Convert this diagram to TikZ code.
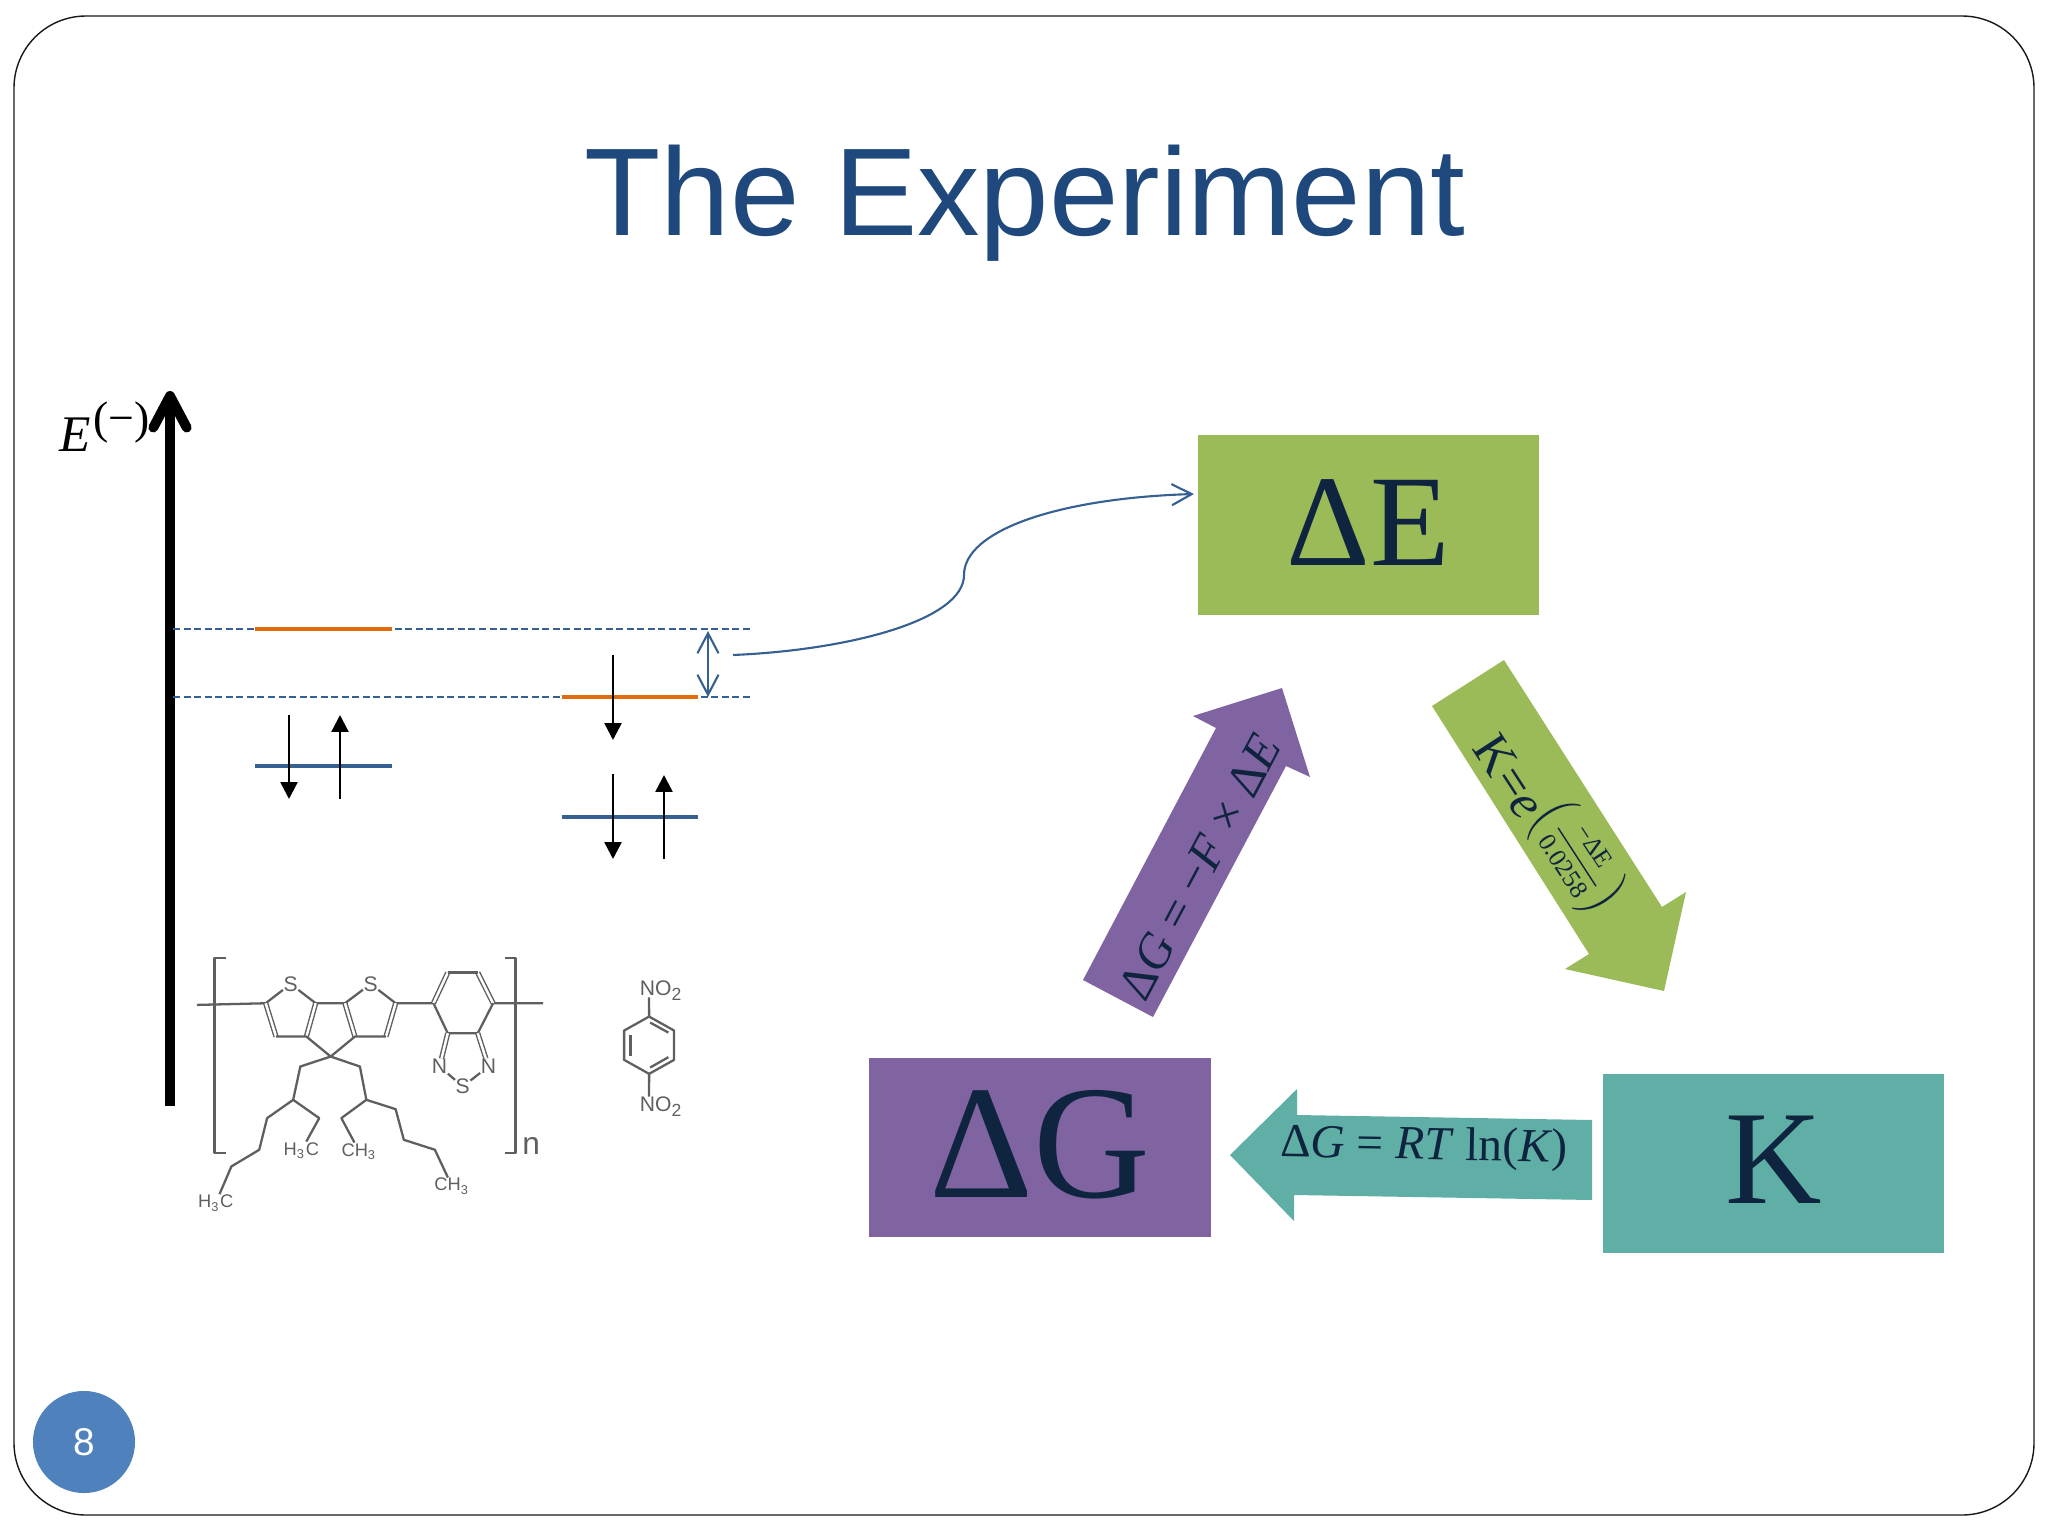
\documentclass[tikz,border=0pt]{standalone}
\usepackage{fontspec}
\setmainfont{Liberation Sans}
\newfontfamily\boxfont{Liberation Serif}
\usetikzlibrary{arrows.meta}
\definecolor{titleblue}{HTML}{1F497D}
\definecolor{pagecircle}{HTML}{4F81BD}
\definecolor{levelblue}{HTML}{366092}
\definecolor{levelorange}{HTML}{E36C0A}
\definecolor{boxgreen}{HTML}{9BBB59}
\definecolor{boxpurple}{HTML}{8064A2}
\definecolor{boxteal}{HTML}{60AFA6}
\definecolor{boxtext}{HTML}{0F243E}
\definecolor{bondgray}{HTML}{5F5F5F}

\begin{document}
\begin{tikzpicture}[x=0.01cm,y=-0.01cm,
    level/.style={line width=1.2pt},
    guide/.style={levelblue,line width=0.55pt,dash pattern=on 2pt off 1pt},
    spin/.style={line width=0.7pt,-{Triangle[length=4.8pt,width=4.8pt]}},
    gap/.style={levelblue,line width=0.6pt,{Straight Barb[length=5.7pt,width=6pt]}-{Straight Barb[length=5.7pt,width=6pt]}},
    bigbox/.style={inner sep=0pt,minimum width=3.41cm,minimum height=1.79cm,text=boxtext},
    onarrow/.style={text=boxtext,inner sep=0pt},
    bond/.style={bondgray,line width=0.65pt,line join=round},
    dbl/.style={bond,double,double distance=0.7pt,line width=0.4pt},
    atom/.style={text=bondgray,inner sep=0pt,font=\fontsize{6}{7}\selectfont},
    chainend/.style={atom,font=\fontsize{5.2}{6}\selectfont}
]
\useasboundingbox (0,0) rectangle (2048,1536);

% Slide frame and number
\draw[black!90,line width=0.4pt,rounded corners=0.72cm] (14,16) rectangle (2034,1515);
\node[circle,fill=pagecircle,minimum size=1.02cm,inner sep=0pt,text=white,font=\fontsize{11}{13}\selectfont] (page) at (84,1442) {8};

% Title
\node[text=titleblue,font=\fontsize{35.5}{40}\selectfont,inner sep=0pt] (title) at (1025,203.5) {The Experiment};

% Energy axis
\coordinate (axisB) at (170,1106);
\coordinate (axisT) at (170,391);
\draw[line width=2.8pt,-{Straight Barb[length=9pt,width=9.5pt,round]}] (axisB) -- (axisT);
\node[anchor=base west,inner sep=0pt,font=\boxfont\fontsize{14.6}{16}\selectfont] (elabel) at (59,451) {\textit{E}\hspace{0.6pt}\raisebox{5pt}{\fontsize{13}{15}\selectfont(−)}};

% Levels
\coordinate (G1) at (173,629);
\coordinate (G2) at (751,629);
\coordinate (G3) at (173,697);
\coordinate (G4) at (751,697);
\draw[guide] (G1) -- (G2);
\draw[guide] (G3) -- (G4);
\draw[level,levelorange] (255,629) -- (392,629);
\draw[level,levelorange] (562,697) -- (698,697);
\draw[level,levelblue] (255,766) -- (392,766);
\draw[level,levelblue] (562,817) -- (698,817);

% Spins
\draw[spin] (289,715) -- (289,799);
\draw[spin] (340,799) -- (340,715);
\draw[spin] (613,655) -- (613,740);
\draw[spin] (613,774) -- (613,859);
\draw[spin] (664,859) -- (664,775);

% Gap and link to the box
\coordinate (gapT) at (708,631);
\coordinate (gapB) at (708,697);
\draw[gap] (gapT) -- (gapB);
\coordinate (linkS) at (733,655);
\coordinate (linkE) at (1194,494);
\draw[levelblue,line width=0.6pt,-{Straight Barb[length=5.7pt,width=6pt]}] (linkS) .. controls (850,650) and (964,620) .. (964,575) .. controls (964,530) and (1060,498) .. (linkE);

% Big boxes
\node[bigbox,fill=boxgreen,font=\boxfont\fontsize{37}{40}\selectfont] (dE) at (1368.5,525) {\raisebox{1.6pt}{ΔE}};
\node[bigbox,fill=boxpurple,font=\boxfont\fontsize{46}{50}\selectfont] (dG) at (1040,1147.5) {\raisebox{2pt}{ΔG}};
\node[bigbox,fill=boxteal,font=\boxfont\fontsize{38}{42}\selectfont] (K) at (1773.5,1163.5) {\raisebox{2.2pt}{K}};

% Block arrows
\fill[boxpurple] (1083,980) -- (1153,1017) -- (1286,766) -- (1310,777) -- (1282,688) -- (1193,716) -- (1216,728) -- cycle;
\fill[boxgreen] (1432,706) -- (1504,660) -- (1662,907) -- (1686,892) -- (1664,991) -- (1565,969) -- (1589,954) -- cycle;
\fill[boxteal] (1592,1120) -- (1297,1115) -- (1297,1089) -- (1230,1155) -- (1294,1221) -- (1294,1195) -- (1592,1200) -- cycle;

% Arrow labels
\node[onarrow,rotate=62,font=\boxfont\fontsize{14}{16}\selectfont] (lawG) at (1200,867) {Δ\textit{G} = −\textit{F} × Δ\textit{E}};
\node[onarrow,rotate=-57,font=\boxfont\fontsize{14.5}{17}\selectfont] (lawK) at (1553,820) {K=\textit{e}\raisebox{6.5pt}{\fontsize{7.2}{8}\selectfont$\left(\displaystyle\frac{\mbox{−ΔE}}{\mbox{0.0258}}\right)$}};
\node[onarrow,rotate=-1,font=\boxfont\fontsize{13.5}{16}\selectfont] (lawR) at (1424,1148) {Δ\textit{G} = \textit{RT} ln(\textit{K})};

% Polymer
\begin{scope}[shift={(170,920)},xscale=0.357,yscale=0.333]
\coordinate (a1) at (268,250); \coordinate (a2) at (408,250);
\coordinate (a3) at (382,350); \coordinate (a4) at (297,350);
\coordinate (b1) at (490,250); \coordinate (b2) at (632,250);
\coordinate (b3) at (605,350); \coordinate (b4) at (518,350);
\coordinate (c1) at (738,250); \coordinate (c2) at (778,158);
\coordinate (c3) at (862,158); \coordinate (c4) at (905,250);
\coordinate (c5) at (862,340); \coordinate (c6) at (778,340);
\coordinate (sp) at (450,410);
\coordinate (n1) at (345,540); \coordinate (n2) at (550,540);
\node[atom] (S1) at (338,192) {S};
\node[atom] (S2) at (562,192) {S};
\node[atom] (N1) at (755,440) {N};
\node[atom] (N2) at (892,440) {N};
\node[atom] (S3) at (820,500) {S};
\node[chainend] (Ch1) at (128,850) {H\textsubscript{3}C};
\node[chainend] (Ch2) at (368,692) {H\textsubscript{3}C};
\node[chainend] (Ch3) at (530,695) {CH\textsubscript{3}};
\node[chainend] (Ch4) at (790,800) {CH\textsubscript{3}};
\node[atom,font=\fontsize{9}{10}\selectfont] (rep) at (1012,678) {n};
% brackets
\draw[bond] (158,115) -- (125,115) -- (125,700) -- (158,700);
\draw[bond] (938,115) -- (968,115) -- (968,700) -- (938,700);
% backbone
\draw[bond] (75,255) -- (a1) -- (S1);
\draw[bond] (S1) -- (a2) -- (b1) -- (S2);
\draw[bond] (S2) -- (b2) -- (c1);
\draw[bond] (c4) -- (1045,250);
\draw[dbl] (a1) -- (a4);
\draw[dbl] (a2) -- (a3);
\draw[dbl] (b1) -- (b4);
\draw[dbl] (b2) -- (b3);
\draw[bond] (a4) -- (a3) -- (sp) -- (b4) -- (b3);
% benzothiadiazole
\draw[dbl] (c1) -- (c2);
\draw[dbl] (c3) -- (c4);
\draw[bond] (c2) -- (c3);
\draw[bond] (c4) -- (c5) -- (c6) -- (c1);
\draw[dbl] (c6) -- (N1);
\draw[dbl] (c5) -- (N2);
\draw[bond] (N1) -- (S3) -- (N2);
% side chains
\draw[bond] (sp) -- (365,440) -- (n1) -- (272,595) -- (250,690) -- (172,740) -- (Ch1);
\draw[bond] (n1) -- (418,595) -- (Ch2);
\draw[bond] (sp) -- (532,440) -- (n2) -- (480,595) -- (Ch3);
\draw[bond] (n2) -- (632,568) -- (655,660) -- (742,690) -- (Ch4);
% dinitrobenzene
\node[atom] (no1) at (1377,212) {NO\textsubscript{2}};
\node[atom] (no2) at (1377,560) {NO\textsubscript{2}};
\coordinate (r1) at (1342,290); \coordinate (r2) at (1412,332);
\coordinate (r3) at (1412,420); \coordinate (r4) at (1342,462);
\coordinate (r5) at (1272,420); \coordinate (r6) at (1272,332);
\draw[bond] (r1) -- (r2) -- (r3) -- (r4) -- (r5) -- (r6) -- cycle;
\draw[bond] (1345,308) -- (1396,338);
\draw[bond] (1396,412) -- (1345,443);
\draw[bond] (1290,345) -- (1290,408);
\draw[bond] (r1) -- (1342,232);
\draw[bond] (r4) -- (1342,530);
\end{scope}
\end{tikzpicture}
\end{document}
